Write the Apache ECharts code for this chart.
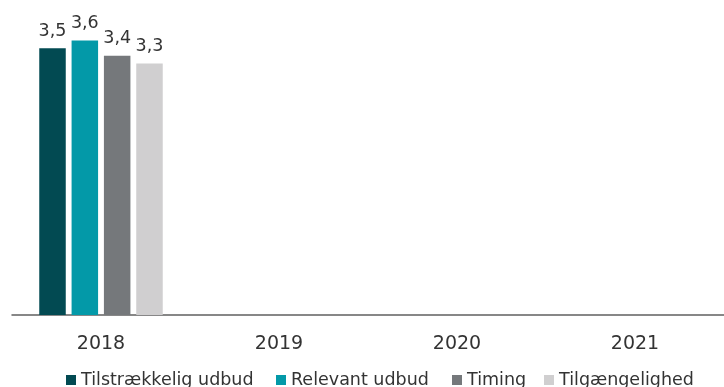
<!DOCTYPE html>
<html>
<head>
<meta charset="utf-8">
<script src="https://cdn.jsdelivr.net/npm/echarts@6/dist/echarts.min.js"></script>
<style>
  html, body { margin: 0; padding: 0; background: #fff; }
  #chart { width: 724px; height: 387px; }
</style>
</head>
<body>
<div id="chart"></div>
<script>
const years = ['2018', '2019', '2020', '2021']
const tilstraekkelig = [3.5, null, null, null]
const relevant = [3.6, null, null, null]
const timing = [3.4, null, null, null]
const tilgaengelighed = [3.3, null, null, null]

const seriesNames = ['Tilstrækkelig udbud', 'Relevant udbud', 'Timing', 'Tilgængelighed']
const seriesColors = ['#024a52', '#0399a8', '#75787b', '#d0cfd0']
const seriesData = [tilstraekkelig, relevant, timing, tilgaengelighed]
// legend entries sit at fixed x positions in the original
const legendLeft = [61, 271, 447, 539]

const font = 'DejaVu Sans, Verdana, sans-serif'
const chart = echarts.init(document.getElementById('chart'))

chart.setOption({
  animation: false,
  textStyle: { fontFamily: font },
  grid: { left: 12, right: -8, top: 10, bottom: 72 },
  legend: seriesNames.map((name, i) => ({
    left: legendLeft[i], top: 366,
    itemWidth: 10, itemHeight: 10,
    icon: 'rect',
    textStyle: { color: '#333', fontSize: 17.5, fontFamily: font },
    data: [name]
  })),
  xAxis: {
    type: 'category', data: years,
    axisLine: { lineStyle: { color: '#606060', width: 1.5 } },
    axisTick: { show: false },
    axisLabel: { color: '#333', fontSize: 19, margin: 20, fontFamily: font }
  },
  yAxis: {
    type: 'value', min: 0, max: 4, show: false,
    splitLine: { show: false }
  },
  series: seriesNames.map((name, i) => ({
    name, type: 'bar', data: seriesData[i],
    barWidth: 26.5, barGap: '22%',
    itemStyle: { color: seriesColors[i] },
    label: {
      show: true, position: 'top', distance: 8,
      color: '#333', fontSize: 17.5, fontFamily: font,
      formatter: (p) => p.value == null ? '' : String(p.value).replace('.', ',')
    }
  }))
})
</script>
</body>
</html>
